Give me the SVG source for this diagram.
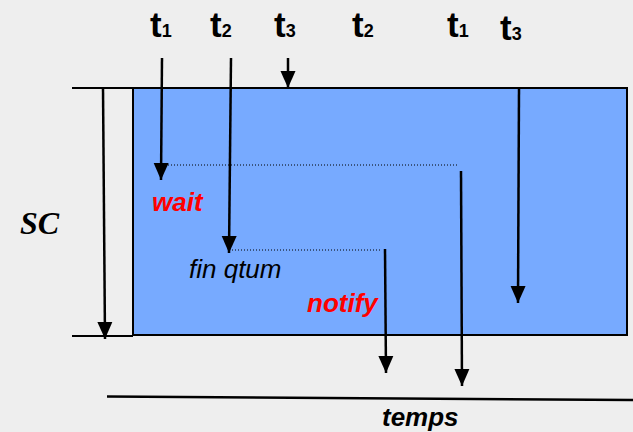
<svg xmlns="http://www.w3.org/2000/svg" width="633" height="432" viewBox="0 0 633 432">
<defs>
<style>
.ln{stroke:#000;stroke-width:2.5;fill:none}
.thin{stroke:#000;stroke-width:2;fill:none}
.dot{stroke:#000;stroke-width:1;stroke-dasharray:1 2;fill:none}
.tl{font-family:"Liberation Sans",Arial,sans-serif;font-weight:bold;fill:#000}
.lab{font-family:"Liberation Sans",Arial,sans-serif;font-style:italic;font-size:26px}
.red{fill:#ff0000;font-weight:bold}
</style>
<marker id="ah" markerUnits="userSpaceOnUse" markerWidth="18" markerHeight="16" viewBox="0 0 18 16" refX="17" refY="8" orient="auto">
<path d="M0,0.5 L17,8 L0,15.5 z" fill="#000"/>
</marker>
</defs>
<rect x="0" y="0" width="633" height="432" fill="#eeeeee"/>
<g id="cs-block">
<rect x="133" y="88" width="494" height="247" fill="#77aaff" stroke="#000" stroke-width="2"/>
</g>
<g id="labels-top">
<text class="tl" x="150" y="37" font-size="35">t<tspan font-size="18">1</tspan></text>
<text class="tl" x="210" y="37" font-size="35">t<tspan font-size="18">2</tspan></text>
<text class="tl" x="274" y="37" font-size="35">t<tspan font-size="18">3</tspan></text>
<text class="tl" x="352" y="37" font-size="35">t<tspan font-size="18">2</tspan></text>
<text class="tl" x="447" y="37" font-size="35">t<tspan font-size="18">1</tspan></text>
<text class="tl" x="500" y="40" font-size="35">t<tspan font-size="18">3</tspan></text>
</g>
<g id="sc-label">
<text x="20" y="234" font-family="'Liberation Serif','Times New Roman',serif" font-style="italic" font-weight="bold" font-size="32">SC</text>
</g>
<g id="event-labels">
<text class="lab red" x="152" y="211">wait</text>
<text class="lab" x="189" y="278">fin qtum</text>
<text class="lab red" x="307" y="312">notify</text>
<text class="lab" x="382" y="425.5" font-weight="bold">temps</text>
</g>
<g id="connectors">
<line class="thin" x1="72" y1="88" x2="133" y2="88"/>
<line class="thin" x1="72" y1="336" x2="133" y2="336"/>
<line class="ln" x1="103" y1="88" x2="105" y2="339" marker-end="url(#ah)"/>
<line class="ln" x1="162" y1="58" x2="161" y2="180" marker-end="url(#ah)"/>
<line class="ln" x1="231" y1="58" x2="229" y2="253" marker-end="url(#ah)"/>
<line class="ln" x1="288" y1="58" x2="288" y2="88" marker-end="url(#ah)"/>
<line class="ln" x1="519" y1="88" x2="518" y2="303" marker-end="url(#ah)"/>
<line class="dot" x1="168" y1="165" x2="458" y2="165"/>
<line class="dot" x1="232" y1="250" x2="382" y2="250"/>
<line class="ln" x1="461" y1="171" x2="462" y2="386" marker-end="url(#ah)"/>
<line class="ln" x1="385" y1="249" x2="386" y2="373" marker-end="url(#ah)"/>
<line class="ln" x1="107" y1="396.5" x2="633" y2="400"/>
</g>
</svg>
